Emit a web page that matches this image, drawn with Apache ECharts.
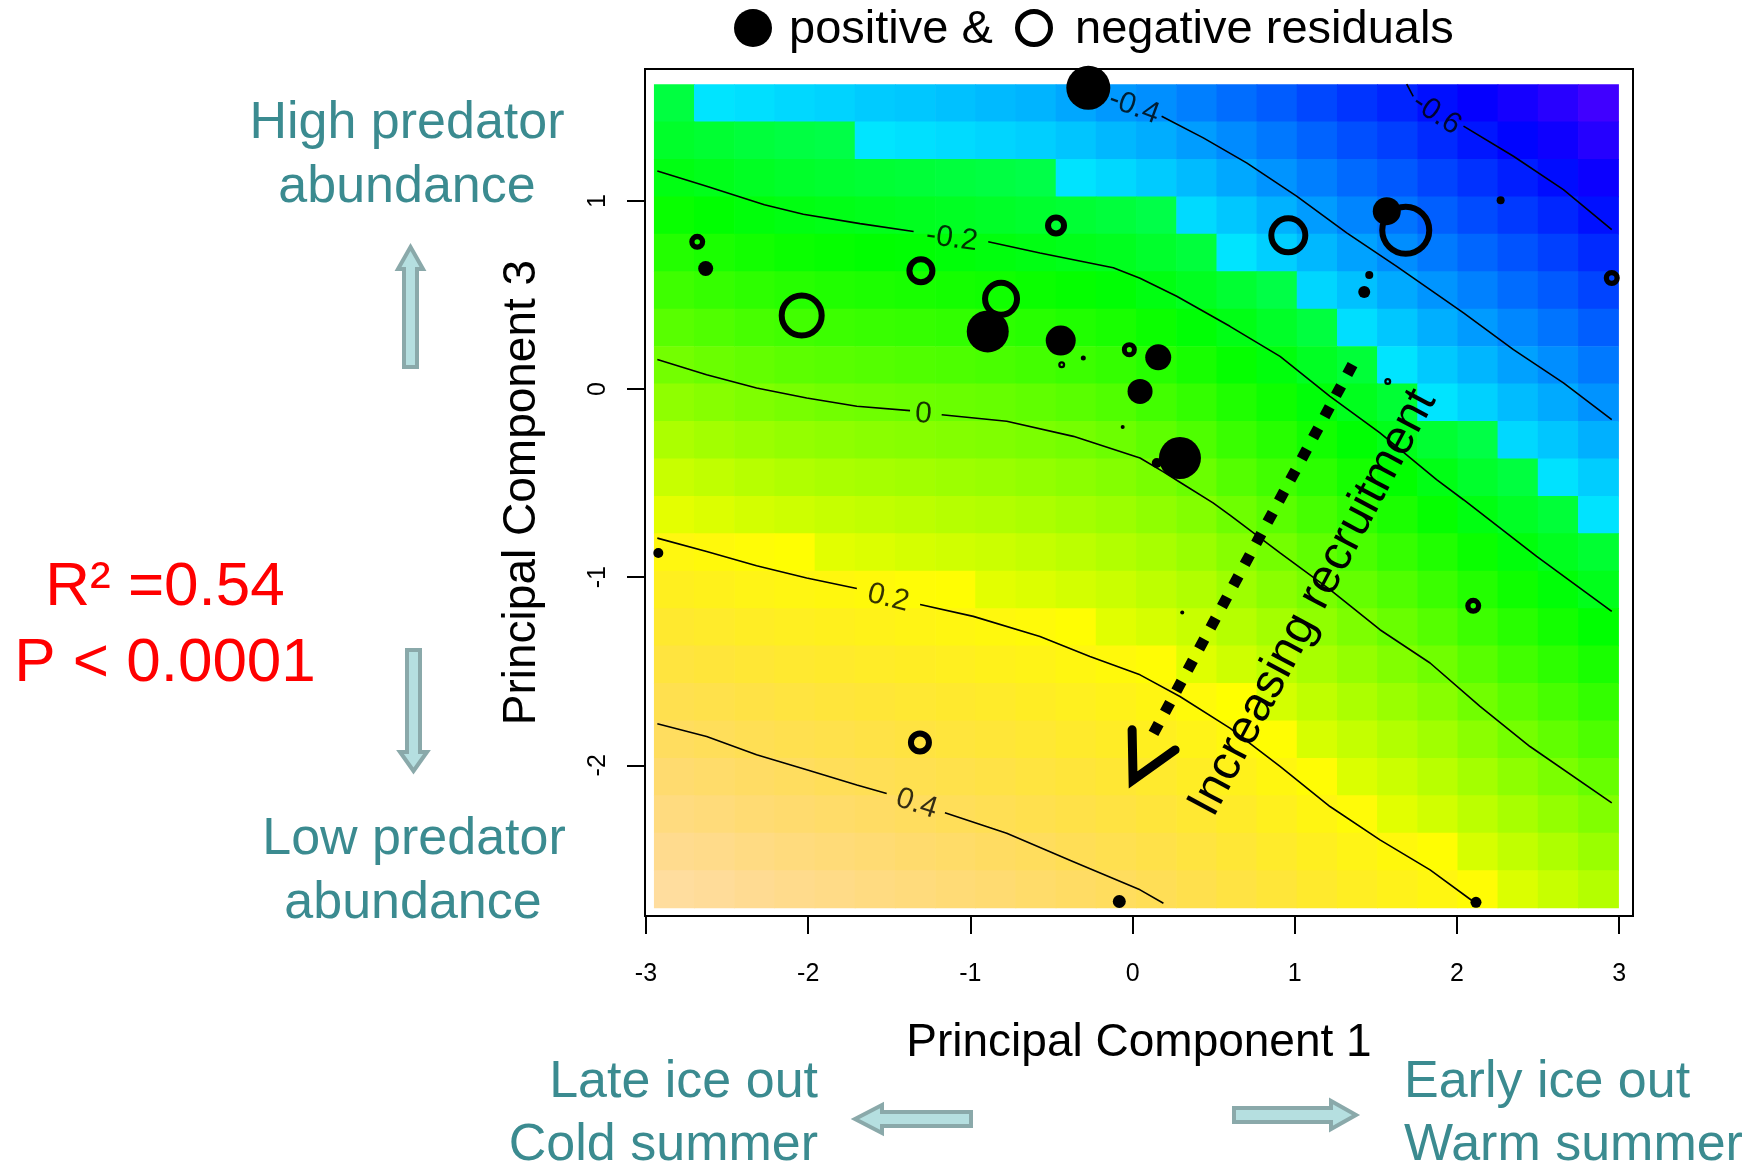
<!DOCTYPE html>
<html>
<head>
<meta charset="utf-8">
<script src="https://cdn.jsdelivr.net/npm/echarts@6/dist/echarts.min.js"></script>
<style>
html, body { margin: 0; padding: 0; background: #fff; }
#chart { width: 1760px; height: 1166px; }
</style>
</head>
<body>
<div id="chart"></div>
<script>
// ---------- fitted surface (PC1 x PC3) ----------
var gridX = [-2.827,-2.580,-2.332,-2.084,-1.836,-1.589,-1.341,-1.093,-0.846,-0.598,-0.350,-0.103,
             0.145,0.393,0.641,0.888,1.136,1.384,1.631,1.879,2.127,2.374,2.622,2.870];
var gridY = [1.522,1.323,1.124,0.925,0.726,0.527,0.328,0.129,-0.070,-0.269,-0.468,-0.667,
             -0.866,-1.065,-1.264,-1.463,-1.662,-1.861,-2.060,-2.259,-2.458,-2.657];
var surface = [
  [-0.267,-0.287,-0.294,-0.305,-0.313,-0.324,-0.331,-0.340,-0.350,-0.358,-0.378,-0.399,-0.414,-0.438,-0.464,-0.489,-0.521,-0.549,-0.573,-0.604,-0.634,-0.658,-0.686,-0.721],
  [-0.233,-0.246,-0.259,-0.269,-0.277,-0.286,-0.293,-0.301,-0.310,-0.318,-0.333,-0.352,-0.369,-0.393,-0.420,-0.448,-0.479,-0.509,-0.533,-0.564,-0.594,-0.620,-0.647,-0.682],
  [-0.198,-0.210,-0.223,-0.233,-0.241,-0.248,-0.255,-0.262,-0.270,-0.279,-0.289,-0.305,-0.324,-0.348,-0.376,-0.406,-0.437,-0.469,-0.494,-0.525,-0.554,-0.581,-0.609,-0.643],
  [-0.159,-0.172,-0.186,-0.197,-0.204,-0.211,-0.217,-0.223,-0.230,-0.239,-0.249,-0.261,-0.279,-0.302,-0.331,-0.362,-0.395,-0.428,-0.454,-0.485,-0.515,-0.542,-0.570,-0.603],
  [-0.119,-0.132,-0.145,-0.156,-0.164,-0.171,-0.176,-0.183,-0.190,-0.199,-0.208,-0.218,-0.237,-0.260,-0.287,-0.318,-0.352,-0.385,-0.415,-0.445,-0.475,-0.503,-0.531,-0.564],
  [-0.079,-0.092,-0.105,-0.115,-0.123,-0.129,-0.135,-0.141,-0.147,-0.157,-0.166,-0.177,-0.196,-0.219,-0.245,-0.275,-0.308,-0.340,-0.373,-0.405,-0.435,-0.465,-0.492,-0.525],
  [-0.040,-0.052,-0.065,-0.074,-0.082,-0.088,-0.093,-0.099,-0.105,-0.114,-0.124,-0.135,-0.155,-0.178,-0.203,-0.231,-0.265,-0.296,-0.330,-0.366,-0.396,-0.426,-0.454,-0.486],
  [0.000,-0.013,-0.024,-0.034,-0.041,-0.047,-0.052,-0.057,-0.063,-0.072,-0.082,-0.094,-0.114,-0.137,-0.164,-0.189,-0.223,-0.255,-0.287,-0.327,-0.356,-0.387,-0.415,-0.447],
  [0.042,0.029,0.017,0.007,-0.001,-0.006,-0.010,-0.015,-0.020,-0.029,-0.039,-0.053,-0.073,-0.096,-0.125,-0.151,-0.183,-0.215,-0.248,-0.287,-0.316,-0.346,-0.374,-0.407],
  [0.084,0.071,0.059,0.049,0.041,0.034,0.030,0.024,0.019,0.011,0.002,-0.011,-0.031,-0.055,-0.086,-0.113,-0.145,-0.176,-0.208,-0.246,-0.276,-0.305,-0.332,-0.365],
  [0.126,0.114,0.101,0.091,0.082,0.075,0.069,0.062,0.056,0.047,0.037,0.025,0.008,-0.014,-0.046,-0.075,-0.106,-0.138,-0.169,-0.203,-0.236,-0.265,-0.290,-0.322],
  [0.168,0.156,0.143,0.133,0.123,0.115,0.108,0.100,0.093,0.084,0.072,0.060,0.043,0.023,-0.007,-0.037,-0.067,-0.099,-0.131,-0.164,-0.196,-0.227,-0.254,-0.288],
  [0.210,0.198,0.185,0.174,0.165,0.156,0.146,0.138,0.130,0.120,0.108,0.094,0.078,0.057,0.029,0.001,-0.029,-0.061,-0.092,-0.124,-0.157,-0.188,-0.218,-0.245],
  [0.250,0.239,0.226,0.215,0.206,0.196,0.185,0.177,0.167,0.156,0.143,0.129,0.112,0.092,0.064,0.036,0.009,-0.022,-0.053,-0.085,-0.119,-0.150,-0.181,-0.211],
  [0.291,0.279,0.265,0.254,0.244,0.234,0.224,0.214,0.204,0.192,0.178,0.164,0.147,0.126,0.100,0.072,0.043,0.015,-0.015,-0.045,-0.080,-0.112,-0.143,-0.173],
  [0.331,0.319,0.305,0.293,0.283,0.272,0.261,0.251,0.240,0.228,0.213,0.198,0.182,0.161,0.135,0.107,0.078,0.050,0.022,-0.005,-0.041,-0.074,-0.104,-0.134],
  [0.371,0.360,0.345,0.332,0.321,0.310,0.299,0.288,0.276,0.263,0.248,0.233,0.217,0.195,0.170,0.142,0.113,0.085,0.058,0.031,-0.003,-0.036,-0.066,-0.096],
  [0.412,0.400,0.384,0.371,0.360,0.348,0.336,0.324,0.312,0.299,0.283,0.268,0.252,0.230,0.205,0.177,0.147,0.120,0.094,0.068,0.035,0.003,-0.027,-0.057],
  [0.452,0.440,0.424,0.411,0.398,0.386,0.374,0.361,0.349,0.334,0.319,0.303,0.286,0.264,0.240,0.212,0.182,0.155,0.130,0.104,0.072,0.040,0.011,-0.018],
  [0.493,0.480,0.464,0.450,0.437,0.424,0.411,0.398,0.385,0.370,0.354,0.339,0.321,0.299,0.274,0.246,0.216,0.190,0.165,0.140,0.109,0.078,0.049,0.020],
  [0.533,0.521,0.503,0.489,0.475,0.462,0.449,0.435,0.421,0.406,0.389,0.374,0.356,0.333,0.308,0.280,0.251,0.225,0.201,0.177,0.147,0.116,0.087,0.058],
  [0.573,0.561,0.543,0.528,0.514,0.500,0.487,0.471,0.457,0.441,0.425,0.409,0.390,0.367,0.342,0.315,0.285,0.259,0.236,0.213,0.184,0.154,0.125,0.096]
];

// ---------- contour lines (each one split where its label sits) ----------
var contourM06 = [
  [[1.690,1.622],[1.730,1.556]],
  [[2.040,1.398],[2.348,1.238],[2.656,1.061],[2.954,0.848]]
];
var contourM04 = [
  [[-0.324,1.622],[-0.158,1.556]],
  [[0.179,1.451],[0.436,1.336],[0.703,1.203],[1.011,1.026],[1.320,0.831],[1.628,0.653],[2.040,0.405],[2.348,0.210],[2.656,0.033],[2.954,-0.162]]
];
var contourM02 = [
  [[-2.930,1.160],[-2.626,1.079],[-2.270,0.980],[-2.030,0.930],[-1.680,0.880],[-1.350,0.838]],
  [[-0.890,0.784],[-0.571,0.724],[-0.119,0.645],[0.046,0.590],[0.272,0.494],[0.600,0.334],[0.909,0.174],[1.217,-0.038],[1.525,-0.233],[1.874,-0.481],[2.040,-0.588],[2.491,-0.889],[2.954,-1.182]]
];
var contour00 = [
  [[-2.930,0.157],[-2.626,0.077],[-2.318,0.006],[-2.009,-0.047],[-1.700,-0.091],[-1.372,-0.114]],
  [[-1.177,-0.136],[-0.776,-0.171],[-0.365,-0.251],[0.046,-0.366],[0.190,-0.440],[0.292,-0.495],[0.496,-0.605],[0.600,-0.670],[0.909,-0.871],[1.217,-1.066],[1.525,-1.279],[1.834,-1.456],[2.142,-1.687],[2.450,-1.900],[2.954,-2.200]]
];
var contour02 = [
  [[-2.930,-0.792],[-2.626,-0.863],[-2.318,-0.939],[-2.009,-1.004],[-1.700,-1.060]],
  [[-1.310,-1.145],[-0.982,-1.208],[-0.571,-1.315],[-0.263,-1.421],[0.046,-1.519],[0.292,-1.634],[0.600,-1.802],[0.909,-2.006],[1.217,-2.219],[1.525,-2.396],[1.834,-2.556],[2.100,-2.724]]
];
var contour04 = [
  [[-2.930,-1.779],[-2.626,-1.847],[-2.318,-1.944],[-2.009,-2.024],[-1.700,-2.104],[-1.516,-2.150]],
  [[-1.157,-2.252],[-0.776,-2.361],[-0.365,-2.512],[0.046,-2.662],[0.190,-2.733]]
];
var contourLevels = ['-0.6', '-0.4', '-0.2', '0', '0.2', '0.4'];
var contourLabelX = [1.874, 0.009, -1.115, -1.290, -1.506, -1.331];
var contourLabelY = [1.462, 1.500, 0.800, -0.132, -1.110, -2.205];
var contourLabelRot = [-34, -20, -8, -4, -14, -18];

// ---------- residual points ----------
var resPC1 = [-0.273,-2.684,-2.632,-2.040,-1.305,-0.472,-0.811,-0.893,-0.443,-0.437,-0.304,-0.020,0.158,0.046,-0.061,0.292,
              0.149,0.960,1.567,1.684,2.269,1.459,1.428,2.954,1.573,0.306,2.100,2.117,-2.924,-1.311,-0.082];
var resPC3 = [1.602,0.783,0.641,0.391,0.630,0.870,0.480,0.307,0.258,0.130,0.166,0.210,0.169,-0.012,-0.201,-0.366,
              -0.393,0.818,0.946,0.845,1.004,0.607,0.517,0.591,0.041,-1.187,-1.152,-2.728,-0.871,-1.879,-2.724];
var resVal = [0.44,-0.16,0.15,-0.46,-0.29,-0.22,-0.38,0.42,0.30,-0.07,0.05,-0.15,0.26,0.25,0.04,0.42,
              0.10,-0.40,0.28,-0.53,0.08,0.08,0.12,-0.16,-0.07,0.04,-0.16,0.11,0.10,-0.24,0.13];

var xTicks = [-3, -2, -1, 0, 1, 2, 3];
var yTicks = [-2, -1, 0, 1];

// ---------- styles ----------
var FONT = "'Liberation Sans', Arial, Helvetica, sans-serif";
var TEAL = '#3b8b90';
var zMin = -0.74, zMax = 0.625;
var cellW = 0.2477, cellH = 0.199;

// hsv -> rgb
function hsv(h, s, v) {
  var c = v * s, hp = h / 60, x = c * (1 - Math.abs(hp % 2 - 1)), r = 0, g = 0, b = 0;
  if (hp < 1) { r = c; g = x; }
  else if (hp < 2) { r = x; g = c; }
  else if (hp < 3) { g = c; b = x; }
  else if (hp < 4) { g = x; b = c; }
  else if (hp < 5) { r = x; b = c; }
  else { r = c; b = x; }
  var m = v - c;
  return 'rgb(' + Math.round((r + m) * 255) + ',' + Math.round((g + m) * 255) + ',' + Math.round((b + m) * 255) + ')';
}
// topo.colors palette: blue->cyan, green->yellow, yellow->tan
function topo(v) {
  var t = (v - zMin) / (zMax - zMin);
  if (t < 0) t = 0; if (t > 1) t = 1;
  if (t < 1 / 3) return hsv(258 - 72 * t * 3, 1, 1);
  if (t < 2 / 3) return hsv(138 - 72 * (t - 1 / 3) * 3, 1, 1);
  var f = (t - 2 / 3) * 3;
  return hsv(60 - 24 * f, 1 - 0.7 * f, 1);
}

// cells of the surface
var cells = [];
for (var j = 0; j < gridY.length; j++) {
  for (var i = 0; i < gridX.length; i++) {
    cells.push([gridX[i], gridY[j], surface[j][i]]);
  }
}

var series = [{
  type: 'custom',
  silent: true,
  clip: true,
  z: 1,
  data: cells,
  encode: { x: 0, y: 1 },
  renderItem: function (params, api) {
    var x = api.value(0), y = api.value(1), v = api.value(2);
    var p0 = api.coord([x - cellW / 2, y + cellH / 2]);
    var p1 = api.coord([x + cellW / 2, y - cellH / 2]);
    return {
      type: 'rect',
      shape: { x: p0[0], y: p0[1], width: p1[0] - p0[0] + 0.7, height: p1[1] - p0[1] + 0.7 },
      style: { fill: topo(v) }
    };
  }
}];

// contour lines
[contourM06, contourM04, contourM02, contour00, contour02, contour04].forEach(function (c) {
  c.forEach(function (seg) {
    series.push({
      type: 'line',
      silent: true,
      z: 2,
      symbol: 'none',
      data: seg,
      lineStyle: { color: '#000', width: 1.6 }
    });
  });
});

// contour labels
series.push({
  type: 'scatter',
  silent: true,
  z: 3,
  symbolSize: 0.1,
  itemStyle: { color: 'rgba(0,0,0,0)' },
  data: contourLevels.map(function (lv, k) {
    return { value: [contourLabelX[k], contourLabelY[k]], label: { rotate: contourLabelRot[k] } };
  }),
  label: {
    show: true,
    position: 'inside',
    formatter: function (p) { return contourLevels[p.dataIndex]; },
    fontSize: 30,
    fontFamily: FONT,
    color: '#000'
  }
});

// residual circles
var posData = [], negData = [];
for (var k = 0; k < resVal.length; k++) {
  var d = Math.abs(resVal[k]) * 100;
  if (resVal[k] > 0) {
    posData.push({ value: [resPC1[k], resPC3[k]], symbolSize: d });
  } else {
    var lw = Math.min(6, d * 0.33);
    negData.push({ value: [resPC1[k], resPC3[k]], symbolSize: d - lw,
      itemStyle: { borderWidth: lw } });
  }
}
series.push({
  type: 'scatter', silent: true, z: 4, symbol: 'circle', data: negData,
  itemStyle: { color: 'rgba(0,0,0,0)', borderColor: '#000', opacity: 1 }
});
series.push({
  type: 'scatter', silent: true, z: 5, symbol: 'circle', data: posData,
  itemStyle: { color: '#000', opacity: 1 }
});

// dotted "increasing recruitment" arrow
series.push({
  type: 'line', silent: true, z: 6, symbol: 'none',
  data: [[1.356, 0.130], [0.107, -1.865]],
  lineStyle: { color: '#000', width: 11, type: [11, 13], cap: 'butt' }
});
series.push({
  type: 'line', silent: true, z: 6, symbol: 'none',
  data: [[-0.003, -1.811], [0.003, -2.077], [0.262, -1.918]],
  lineStyle: { color: '#000', width: 9, cap: 'round', join: 'miter' }
});

function txt(x, y, s, size, color, align, rot) {
  return {
    type: 'text', x: x, y: y, rotation: rot || 0, z: 100,
    style: { text: s, fontSize: size, fontFamily: FONT, fill: color, align: align || 'center', verticalAlign: 'middle' }
  };
}
var ARROW_STYLE = { fill: '#b5dfe0', stroke: '#8aa9aa', lineWidth: 4 };

var graphics = [
  // heading
  { type: 'circle', shape: { cx: 753, cy: 28, r: 19 }, style: { fill: '#000' }, z: 100 },
  txt(789, 30, 'positive &', 47, '#000', 'left'),
  { type: 'circle', shape: { cx: 1034, cy: 28, r: 16.5 }, style: { fill: 'none', stroke: '#000', lineWidth: 5 }, z: 100 },
  txt(1075, 30, 'negative residuals', 47, '#000', 'left'),
  // left side notes
  txt(407, 124, 'High predator', 52, TEAL),
  txt(407, 188, 'abundance', 52, TEAL),
  txt(414, 840, 'Low predator', 52, TEAL),
  txt(413, 904, 'abundance', 52, TEAL),
  txt(165, 588, 'R\u00b2 =0.54', 62, '#ff0000'),
  txt(165, 664, 'P < 0.0001', 62, '#ff0000'),
  // bottom notes
  txt(818, 1083, 'Late ice out', 52, TEAL, 'right'),
  txt(818, 1146, 'Cold summer', 52, TEAL, 'right'),
  txt(1404, 1083, 'Early ice out', 52, TEAL, 'left'),
  txt(1404, 1146, 'Warm summer', 52, TEAL, 'left'),
  // recruitment label
  txt(1313, 603, 'Increasing recruitment', 48, '#000', 'center', 62 * Math.PI / 180),
  // hollow arrows
  { type: 'polygon', z: 100, style: ARROW_STYLE,
    shape: { points: [[410.5, 247], [423, 269], [417, 269], [417, 367], [404, 367], [404, 269], [398, 269]] } },
  { type: 'polygon', z: 100, style: ARROW_STYLE,
    shape: { points: [[407, 650], [420, 650], [420, 752], [427, 752], [413.5, 771], [400, 752], [407, 752]] } },
  { type: 'polygon', z: 100, style: ARROW_STYLE,
    shape: { points: [[855, 1119], [882, 1105], [882, 1112], [971, 1112], [971, 1126], [882, 1126], [882, 1133]] } },
  { type: 'polygon', z: 100, style: ARROW_STYLE,
    shape: { points: [[1234, 1108], [1331, 1108], [1331, 1101], [1356, 1115], [1331, 1129], [1331, 1122], [1234, 1122]] } }
];

var chart = echarts.init(document.getElementById('chart'), null, { renderer: 'canvas' });
chart.setOption({
  animation: false,
  backgroundColor: '#fff',
  grid: {
    left: 645, top: 69, width: 988, height: 847,
    show: true, borderColor: '#000', borderWidth: 2, backgroundColor: 'rgba(0,0,0,0)'
  },
  xAxis: {
    type: 'value', min: -3.006, max: 3.085,
    axisLine: { show: false, onZero: false },
    splitLine: { show: false },
    axisTick: { show: true, length: 18, lineStyle: { color: '#000', width: 2 }, customValues: xTicks },
    axisLabel: { customValues: xTicks, margin: 46, fontSize: 25, fontFamily: FONT, color: '#000' },
    name: 'Principal Component 1', nameLocation: 'middle', nameGap: 104,
    nameTextStyle: { fontSize: 46, fontFamily: FONT, color: '#000' }
  },
  yAxis: {
    type: 'value', min: -2.801, max: 1.702,
    axisLine: { show: false, onZero: false },
    splitLine: { show: false },
    axisTick: { show: true, length: 18, lineStyle: { color: '#000', width: 2 }, customValues: yTicks },
    axisLabel: { customValues: yTicks, rotate: 90, margin: 34, fontSize: 25, fontFamily: FONT, color: '#000' },
    name: 'Principal Component 3', nameLocation: 'middle', nameGap: 100,
    nameTextStyle: { fontSize: 46, fontFamily: FONT, color: '#000' }
  },
  series: series,
  graphic: graphics
});
</script>
</body>
</html>
